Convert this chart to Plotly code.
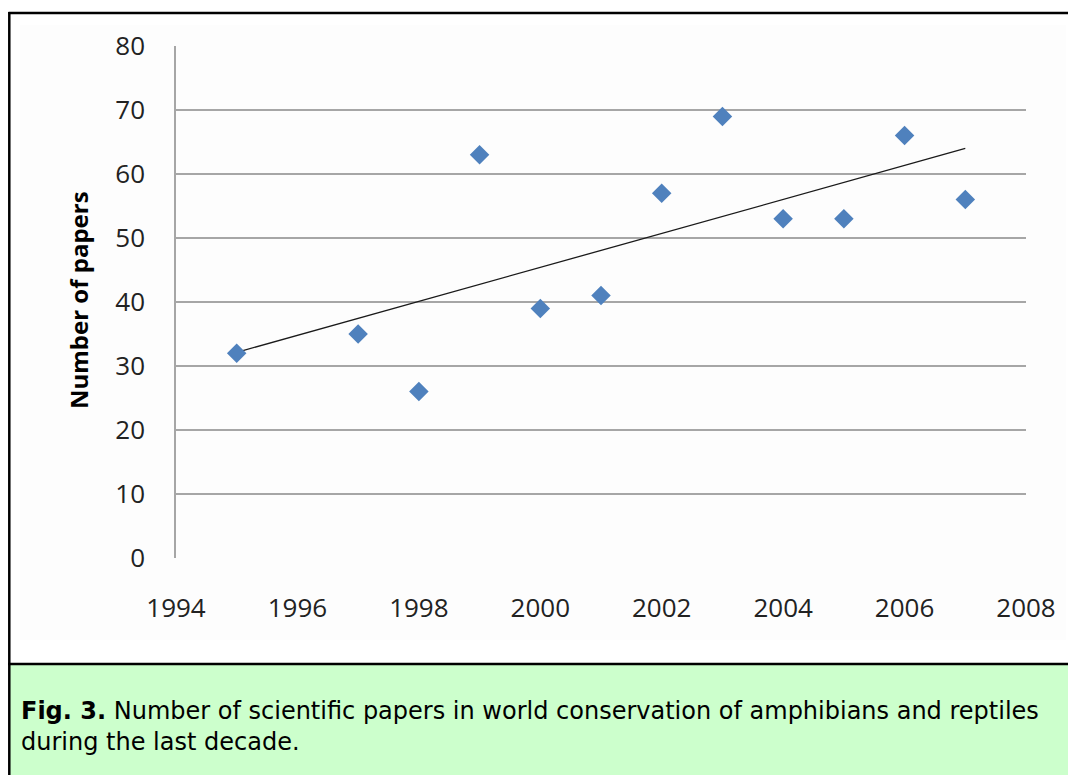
import numpy as np
import plotly.graph_objects as go

years = [1995, 1997, 1998, 1999, 2000, 2001, 2002, 2003, 2004, 2005, 2006, 2007]
papers = [32, 35, 26, 63, 39, 41, 57, 69, 53, 53, 66, 56]
y_ticks = [0, 10, 20, 30, 40, 50, 60, 70, 80]
x_ticks = [1994, 1996, 1998, 2000, 2002, 2004, 2006, 2008]
y_title = "Number of papers"
caption_bold = "Fig. 3."
caption_text = " Number of scientific papers in world conservation of amphibians and reptiles<br>during the last decade."

# page has an 8px body margin; work in screen pixels and convert
O = 8
W, H = 1076 - O, 775 - O
L, T = 176 - O, 46 - O
PW, PH = 850, 512
R, B = W - L - PW, H - T - PH

def px(x):  # screen x -> paper
    return (x - O - L) / PW

def py(y):  # screen y -> paper
    return (T + PH - (y - O)) / PH

slope, icpt = np.polyfit(years, papers, 1)
trend_x = [years[0], years[-1]]
trend_y = [slope * x + icpt for x in trend_x]

fig = go.Figure()
fig.add_trace(go.Scatter(x=trend_x, y=trend_y, mode="lines",
                         line=dict(color="#1a1a1a", width=1.3), hoverinfo="skip"))
fig.add_trace(go.Scatter(x=years, y=papers, mode="markers",
                         marker=dict(symbol="diamond", size=15, color="#4F81BD",
                                     line=dict(width=0))))

shapes = [
    dict(type="rect", xref="paper", yref="paper", x0=px(20), x1=px(1066), y0=py(25), y1=py(640),
         fillcolor="#fdfdfd", line=dict(width=0), layer="below"),
    dict(type="rect", xref="paper", yref="paper", x0=px(9), x1=px(1090), y0=py(665), y1=py(790),
         fillcolor="#CCFFCC", line=dict(width=0), layer="below"),
    dict(type="line", xref="paper", yref="paper", x0=px(8.5), x1=px(1090), y0=py(13), y1=py(13),
         line=dict(color="black", width=2.5)),
    dict(type="line", xref="paper", yref="paper", x0=px(9.3), x1=px(9.3), y0=py(12), y1=py(790),
         line=dict(color="black", width=2.5)),
    dict(type="line", xref="paper", yref="paper", x0=px(8), x1=px(1090), y0=py(664), y1=py(664),
         line=dict(color="black", width=2.5)),
]

annotations = [
    dict(text="<b>" + y_title + "</b>", xref="paper", yref="paper", x=px(78), y=py(300),
         textangle=-90, showarrow=False, xanchor="center", yanchor="middle",
         font=dict(family="Open Sans", size=24, color="black")),
    dict(text="<b>" + caption_bold + "</b>" + caption_text, xref="paper", yref="paper",
         x=px(19), y=py(695), xanchor="left", yanchor="top", align="left", showarrow=False,
         font=dict(family="DejaVu Sans", size=24, color="black")),
]

fig.update_layout(
    width=W, height=H,
    margin=dict(l=L, r=R, t=T, b=B, pad=0),
    paper_bgcolor="white", plot_bgcolor="rgba(0,0,0,0)",
    showlegend=False,
    shapes=shapes, annotations=annotations,
    xaxis=dict(range=[1994, 2008], tickvals=x_ticks, showgrid=False, zeroline=False,
               showline=False, ticks="", ticklabelstandoff=32,
               tickfont=dict(family="Open Sans", size=26, color="#222")),
    yaxis=dict(range=[0, 80], tickvals=y_ticks, showgrid=True, gridcolor="#a6a6a6", gridwidth=1.5,
               zeroline=False, showline=True, linecolor="#a6a6a6", linewidth=1.5, ticks="",
               ticklabelstandoff=24, tickfont=dict(family="Open Sans", size=26, color="#222")),
)

fig.write_html("out.html")
